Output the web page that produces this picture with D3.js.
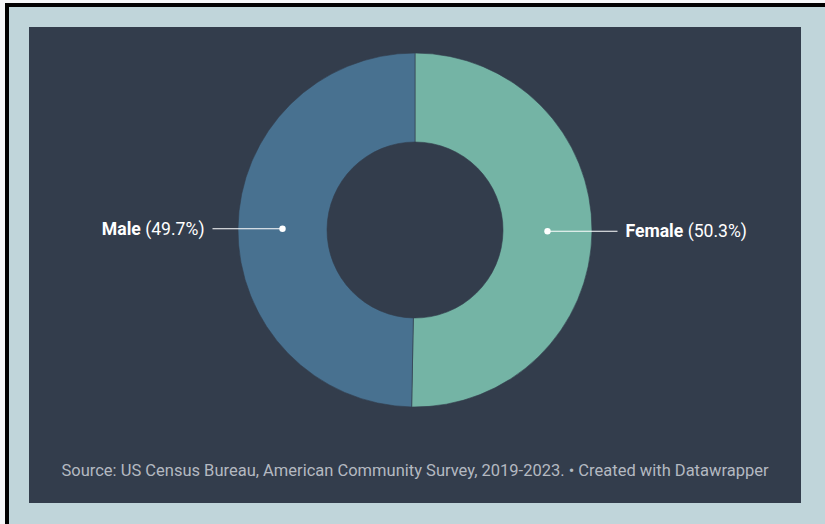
<!DOCTYPE html>
<html>
<head>
<meta charset="utf-8">
<script src="https://cdn.jsdelivr.net/npm/d3@7"></script>
<style>
  html, body { margin: 0; padding: 0; background: #f5f6f8; }
  svg { display: block; }
</style>
</head>
<body>
<div id="chart"></div>
<script>
// chart data
const categories = ["Female", "Male"];
const shares = [50.3, 49.7];
const sliceColors = ["#74b4a5", "#487190"];
const sourceNote = "Source: US Census Bureau, American Community Survey, 2019-2023. \u2022 Created with Datawrapper";

const width = 825, height = 524;
const cx = 415, cy = 230;
const outerR = 177, innerR = 88;

const svg = d3.select("#chart").append("svg")
    .attr("width", width)
    .attr("height", height);

// frame: black border, pale blue mat, dark panel
svg.append("rect")
    .attr("x", 5).attr("y", 3)
    .attr("width", width - 5).attr("height", height - 3)
    .attr("fill", "#000");
svg.append("rect")
    .attr("x", 9).attr("y", 7)
    .attr("width", width - 9).attr("height", height - 7)
    .attr("fill", "#c0d5da");
svg.append("rect")
    .attr("x", 29).attr("y", 27)
    .attr("width", 772).attr("height", 476)
    .attr("fill", "#333d4c");

const data = categories.map((c, i) => ({name: c, value: shares[i], color: sliceColors[i]}));

const pie = d3.pie()
    .sort(null)
    .value(d => d.value);

const arc = d3.arc()
    .innerRadius(innerR)
    .outerRadius(outerR);

const g = svg.append("g")
    .attr("transform", `translate(${cx},${cy})`);

const arcs = pie(data);

g.selectAll("path")
  .data(arcs)
  .enter().append("path")
    .attr("d", arc)
    .attr("fill", d => d.data.color)
    .attr("stroke", "#333d4c")
    .attr("stroke-width", 0.6);

// labels with leader lines from the slice centroid
const fmt = d3.format(".1f");
const lab = g.selectAll("g.lab")
  .data(arcs)
  .enter().append("g")
    .attr("class", "lab");

lab.each(function(d) {
  const [x, y] = arc.centroid(d);
  const right = x > 0;
  const x2 = right ? x + 70 : x - 70;
  const el = d3.select(this);
  el.append("line")
      .attr("x1", x).attr("y1", y)
      .attr("x2", x2).attr("y2", y)
      .attr("stroke", "#fff")
      .attr("stroke-width", 1.2);
  el.append("circle")
      .attr("cx", x).attr("cy", y)
      .attr("r", 3.2)
      .attr("fill", "#fff");
  const t = el.append("text")
      .attr("x", right ? x2 + 8 : x2 - 8)
      .attr("y", y)
      .attr("dy", "0.35em")
      .attr("text-anchor", right ? "start" : "end")
      .style("font", "17.6px Roboto, sans-serif")
      .attr("fill", "#fff");
  t.append("tspan").attr("font-weight", 700).text(d.data.name);
  t.append("tspan").text(` (${fmt(d.data.value)}%)`);
});

svg.append("text")
    .attr("x", cx)
    .attr("y", 476)
    .attr("text-anchor", "middle")
    .style("font", "16.5px Roboto, sans-serif")
    .attr("fill", "#b4b9c1")
    .text(sourceNote);
</script>
</body>
</html>
